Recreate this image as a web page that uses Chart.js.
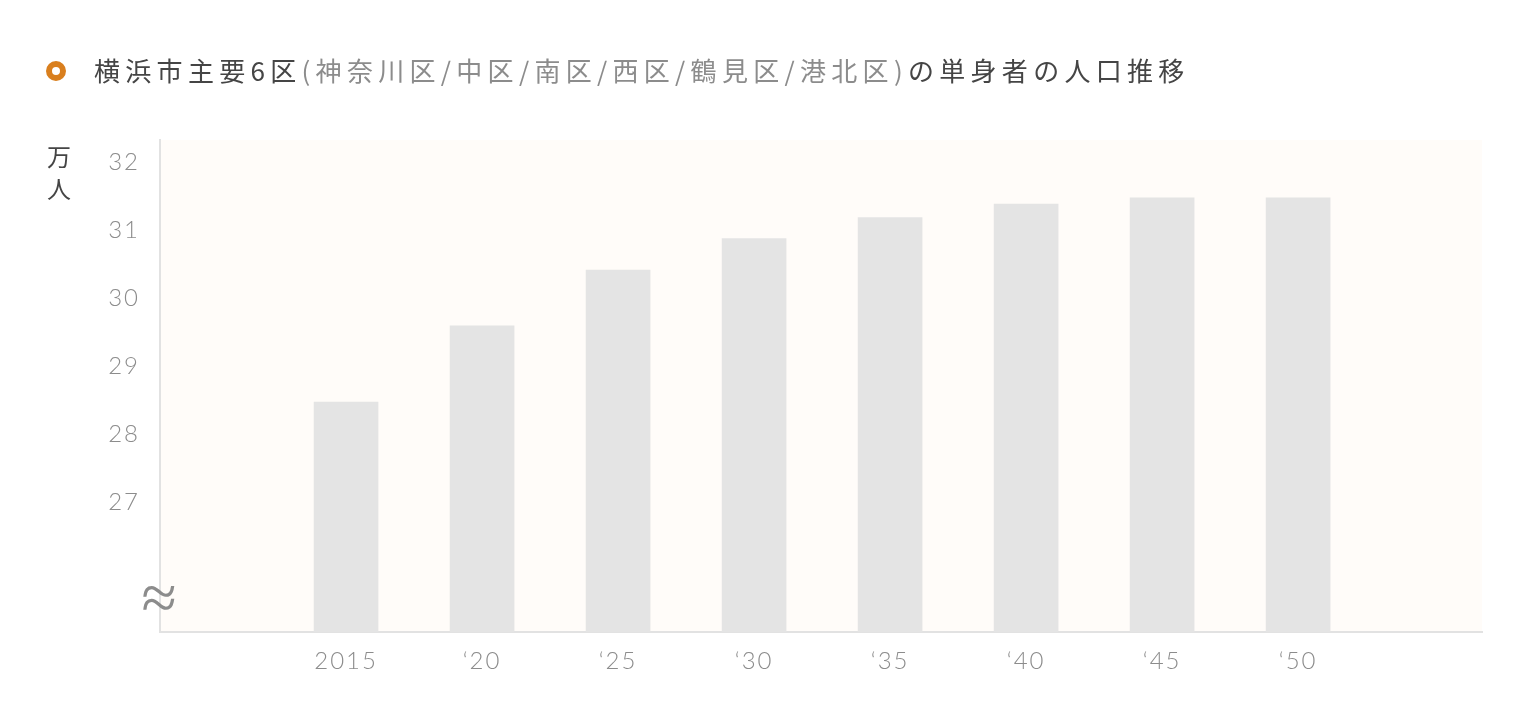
<!DOCTYPE html>
<html>
<head>
<meta charset="utf-8">
<script src="https://cdn.jsdelivr.net/npm/chart.js@4"></script>
<style>
  html, body { margin: 0; padding: 0; background: #fff; }
  #wrap { position: relative; width: 1530px; height: 720px; }
  #myChart { position: absolute; left: 0; top: 0; }
  .title {
    position: absolute; left: 94px; top: 52px;
    font: 400 26px "Noto Sans CJK JP", sans-serif;
    letter-spacing: 5.3px; color: #454545; white-space: nowrap; line-height: 36px;
  }
  .title .sub { color: #8c8c8c; }
  .dot {
    position: absolute; left: 46px; top: 61px; width: 8px; height: 8px;
    border: 6px solid #d97f1e; border-radius: 50%; background: #fff;
  }
  .unit {
    position: absolute; left: 47px; top: 140px; width: 30px;
    font: 400 24px "Noto Sans CJK JP", sans-serif; color: #454545; line-height: 32px;
  }
</style>
</head>
<body>
<div id="wrap">
  <canvas id="myChart" width="1530" height="720"></canvas>
  <div class="dot"></div>
  <div class="title">横浜市主要6区<span class="sub">(神奈川区/中区/南区/西区/鶴見区/港北区)</span>の単身者の人口推移</div>
  <div class="unit">万<br>人</div>
</div>
<script>
// values (万人)
var years = [2015, 2020, 2025, 2030, 2035, 2040, 2045, 2050];
var yearLabels = ['2015', '‘20', '‘25', '‘30', '‘35', '‘40', '‘45', '‘50'];
var singles = [28.47, 29.59, 30.41, 30.87, 31.18, 31.38, 31.47, 31.47];
var yTicks = [27, 28, 29, 30, 31, 32];
var yMin = 25.09, yMax = 32.32, breakAt = 25.52;
var xMin = 2008.16, xMax = 2056.76;

var plotBg = {
  id: 'plotBg',
  beforeDraw: function(chart) {
    var a = chart.chartArea, ctx = chart.ctx;
    ctx.save();
    ctx.fillStyle = '#fffcf9';
    ctx.fillRect(a.left, a.top, a.right - a.left, a.bottom - a.top);
    ctx.restore();
    ctx.letterSpacing = '2px';
  },
  afterDraw: function(chart) {
    // axis break mark
    var ctx = chart.ctx, y = chart.scales.y;
    ctx.save();
    ctx.letterSpacing = '0px';
    ctx.font = '300 64px "DejaVu Sans"';
    ctx.fillStyle = '#8c8c8c';
    ctx.textAlign = 'center';
    ctx.textBaseline = 'middle';
    ctx.fillText('≈', y.right - 1, y.getPixelForValue(breakAt));
    ctx.restore();
  }
};

var myChart = new Chart(document.getElementById('myChart'), {
  type: 'bar',
  data: {
    datasets: [{
      data: years.map(function(yr, i) { return { x: yr, y: singles[i] }; }),
      backgroundColor: '#e4e4e4',
      barThickness: 64,
      base: yMin
    }]
  },
  options: {
    responsive: false,
    animation: false,
    layout: { padding: { top: 140, right: 48, left: 0, bottom: 0 } },
    plugins: { legend: { display: false }, tooltip: { enabled: false } },
    scales: {
      x: {
        type: 'linear',
        offset: false,
        min: xMin, max: xMax,
        grid: { display: false, drawTicks: false },
        border: { display: true, color: '#e2e2e2', width: 2 },
        afterBuildTicks: function(s) { s.ticks = years.map(function(v) { return { value: v }; }); },
        afterFit: function(s) { s.height = 88; },
        ticks: {
          padding: 15,
          color: '#8c8c8c',
          font: { family: 'Lato', size: 24, weight: 300 },
          maxRotation: 0,
          callback: function(v) { return yearLabels[years.indexOf(v)]; }
        }
      },
      y: {
        min: yMin, max: yMax,
        grid: { display: false, drawTicks: false },
        border: { display: true, color: '#e2e2e2', width: 2 },
        afterBuildTicks: function(s) { s.ticks = yTicks.map(function(v) { return { value: v }; }); },
        afterFit: function(s) { s.width = 160; },
        ticks: {
          padding: 20,
          color: '#8c8c8c',
          font: { family: 'Lato', size: 24, weight: 300 },
          callback: function(v) { return String(v); }
        }
      }
    }
  },
  plugins: [plotBg]
});
</script>
</body>
</html>
